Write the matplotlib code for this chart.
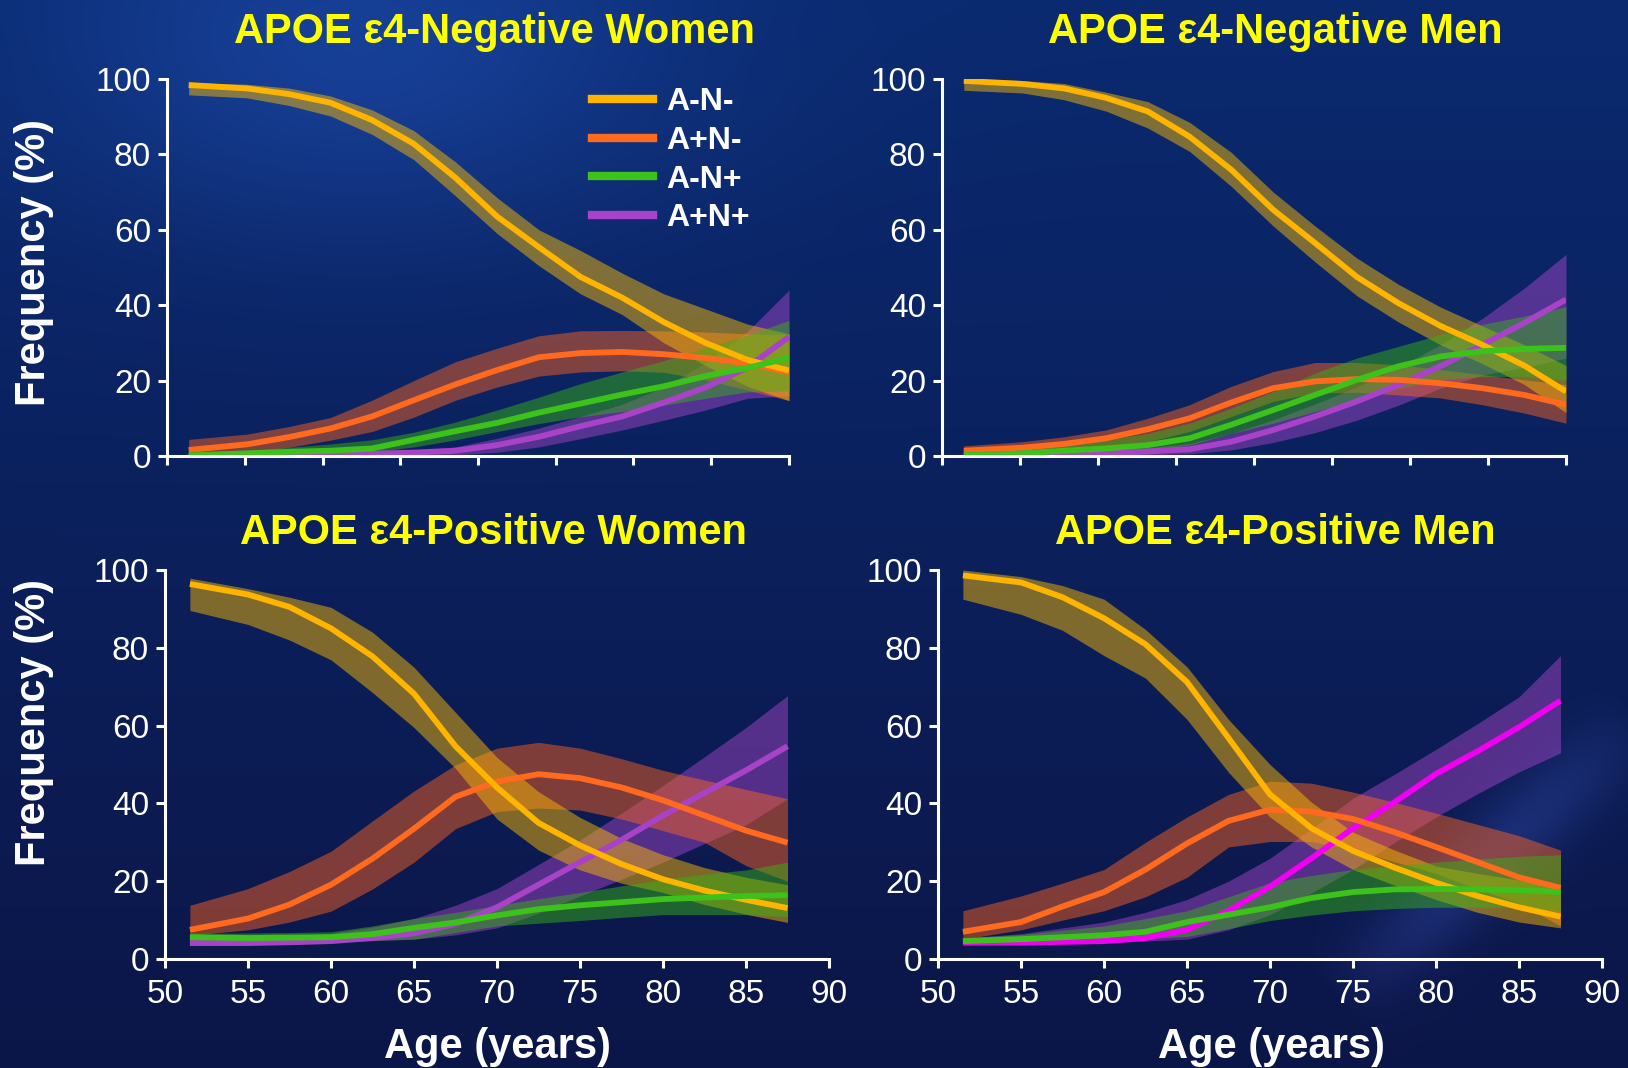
import numpy as np
import matplotlib
matplotlib.use('Agg')
import matplotlib.pyplot as plt
from matplotlib.lines import Line2D

plt.rcParams['font.family'] = ['Liberation Sans', 'DejaVu Sans']

#Ages at which the curves were read (years)
age = [51.5, 55, 57.5, 60, 62.5, 65, 67.5, 70, 72.5, 75, 77.5, 80, 82.5, 85, 87.5]
groups = ['A-N-', 'A+N-', 'A-N+', 'A+N+']
titles = ['APOE \u03b54-Negative Women', 'APOE \u03b54-Negative Men',
          'APOE \u03b54-Positive Women', 'APOE \u03b54-Positive Men']

#APOE e4-negative women (mid, lo, hi)
nw_ann = [98.4, 97.5, 96.0, 93.7, 89.1, 82.8, 73.8, 63.5, 55.4, 47.5, 42.0, 35.5, 30.0, 25.5, 22.7]
nw_ann_lo = [95.8, 95.0, 93.0, 90.2, 85.3, 78.6, 69.0, 59.0, 50.5, 43.0, 37.5, 30.0, 24.0, 18.5, 14.7]
nw_ann_hi = [99.0, 98.6, 97.6, 95.5, 91.8, 86.3, 78.0, 68.5, 60.0, 54.5, 48.5, 43.0, 39.0, 35.0, 32.4]
nw_apn = [1.6, 3.1, 5.0, 7.3, 10.5, 14.8, 19.0, 22.8, 26.2, 27.3, 27.6, 27.0, 26.0, 24.6, 22.2]
nw_apn_lo = [0.0, 0.9, 2.3, 4.2, 6.5, 10.3, 14.8, 18.3, 21.2, 22.3, 22.6, 22.2, 20.2, 17.5, 14.7]
nw_apn_hi = [4.4, 5.8, 7.8, 10.2, 14.8, 20.0, 25.0, 28.6, 31.9, 33.2, 33.3, 33.2, 32.9, 32.4, 32.2]
nw_anp = [0.2, 0.7, 1.1, 1.4, 2.0, 4.3, 6.6, 8.8, 11.5, 13.9, 16.3, 18.5, 21.2, 23.4, 26.0]
nw_anp_lo = [0.0, 0.2, 0.4, 0.6, 1.0, 2.4, 4.3, 6.5, 8.6, 10.4, 11.8, 13.5, 15.3, 17.0, 17.3]
nw_anp_hi = [0.5, 1.5, 2.3, 3.2, 4.3, 6.3, 9.0, 12.2, 15.6, 19.2, 22.3, 25.3, 28.8, 32.0, 36.0]
nw_app = [0.0, 0.1, 0.2, 0.4, 0.6, 0.9, 1.4, 2.9, 5.1, 7.9, 10.5, 14.2, 18.2, 23.5, 31.6]
nw_app_lo = [0.0, 0.0, 0.0, 0.0, 0.1, 0.2, 0.3, 1.0, 2.4, 4.6, 6.9, 9.5, 12.2, 15.3, 16.0]
nw_app_hi = [0.2, 0.4, 0.6, 0.8, 1.2, 1.6, 2.4, 4.7, 7.4, 10.5, 13.7, 18.3, 24.7, 33.0, 44.0]

#APOE e4-negative men
nm_ann = [99.5, 98.7, 97.5, 95.0, 91.4, 84.7, 75.9, 65.3, 56.5, 47.5, 40.5, 34.5, 29.5, 24.0, 17.1]
nm_ann_lo = [97.0, 96.3, 94.5, 91.5, 87.0, 80.8, 71.5, 61.0, 51.5, 42.5, 35.5, 29.5, 24.5, 19.0, 11.5]
nm_ann_hi = [100.0, 99.6, 98.8, 96.5, 94.0, 88.5, 80.5, 70.0, 61.0, 52.5, 45.5, 39.5, 34.5, 29.5, 24.0]
nm_apn = [1.4, 2.2, 3.2, 4.7, 7.1, 10.0, 14.2, 18.0, 19.8, 20.4, 20.2, 19.3, 18.0, 16.2, 13.6]
nm_apn_lo = [0.3, 0.7, 1.4, 2.5, 3.8, 6.5, 10.5, 14.5, 16.7, 16.9, 16.2, 15.4, 13.6, 11.4, 8.7]
nm_apn_hi = [2.7, 3.8, 5.1, 6.9, 10.0, 13.6, 18.5, 22.4, 24.8, 24.8, 24.2, 22.9, 21.6, 20.2, 18.9]
nm_anp = [0.3, 0.7, 1.4, 2.0, 2.9, 4.7, 8.3, 12.2, 16.2, 20.2, 23.8, 26.4, 27.8, 28.4, 28.7]
nm_anp_lo = [0.0, 0.3, 0.7, 1.2, 1.8, 2.9, 6.0, 8.7, 11.8, 14.9, 18.0, 20.2, 21.1, 21.1, 20.2]
nm_anp_hi = [0.7, 1.6, 2.9, 4.3, 6.0, 8.7, 12.7, 17.1, 22.0, 26.0, 29.1, 32.2, 34.9, 37.1, 39.6]
nm_app = [0.0, 0.2, 0.4, 0.7, 1.2, 1.8, 3.8, 6.9, 10.5, 14.5, 18.9, 23.8, 29.5, 35.3, 41.5]
nm_app_lo = [0.0, 0.0, 0.0, 0.1, 0.3, 0.6, 1.6, 3.6, 6.2, 9.5, 13.5, 18.0, 21.5, 23.5, 26.0]
nm_app_hi = [0.2, 0.5, 0.9, 1.4, 2.2, 3.3, 6.0, 9.6, 13.8, 18.3, 23.5, 29.5, 36.5, 44.5, 53.5]

#APOE e4-positive women
pw_ann = [96.4, 93.7, 90.5, 85.0, 77.8, 68.2, 54.7, 44.1, 35.0, 29.2, 24.4, 20.5, 17.6, 15.2, 13.1]
pw_ann_lo = [89.6, 86.0, 82.0, 76.9, 68.5, 59.5, 49.0, 36.0, 28.0, 22.9, 19.5, 17.1, 14.0, 11.5, 9.4]
pw_ann_hi = [97.9, 95.2, 93.0, 90.4, 84.0, 75.0, 63.4, 51.8, 43.0, 36.4, 31.0, 26.8, 23.5, 21.0, 19.1]
pw_apn = [7.5, 10.4, 14.0, 19.1, 25.8, 33.5, 41.7, 45.6, 47.5, 46.5, 44.1, 40.8, 36.9, 33.0, 29.9]
pw_apn_lo = [6.1, 7.5, 9.5, 12.3, 18.0, 24.9, 33.5, 37.9, 38.8, 38.3, 36.0, 33.0, 30.0, 24.0, 20.0]
pw_apn_hi = [13.8, 18.1, 22.5, 27.7, 35.5, 43.2, 49.9, 54.2, 55.7, 54.2, 51.5, 48.5, 46.0, 43.6, 41.2]
pw_anp = [5.6, 5.4, 5.5, 5.6, 6.4, 8.0, 9.4, 11.2, 12.8, 13.8, 14.6, 15.4, 15.8, 16.2, 16.4]
pw_anp_lo = [4.8, 4.7, 4.6, 4.6, 4.8, 5.1, 6.8, 8.5, 9.2, 9.9, 10.7, 11.4, 11.4, 11.4, 10.9]
pw_anp_hi = [6.6, 6.7, 6.8, 7.0, 8.5, 10.4, 12.0, 13.8, 15.5, 17.1, 18.8, 20.5, 21.8, 22.9, 24.9]
pw_app = [4.1, 4.1, 4.3, 4.6, 5.4, 6.6, 9.0, 13.3, 19.1, 24.9, 30.6, 36.9, 42.7, 48.5, 54.7]
pw_app_lo = [3.7, 3.8, 4.1, 4.4, 4.7, 5.1, 6.2, 8.0, 11.8, 16.2, 20.5, 24.9, 29.7, 34.5, 41.2]
pw_app_hi = [5.1, 5.5, 6.0, 6.6, 8.2, 10.4, 13.8, 18.1, 24.3, 30.6, 37.5, 44.6, 52.0, 59.5, 67.7]

#APOE e4-positive men
pm_ann = [98.6, 96.8, 93.0, 87.6, 80.9, 71.2, 56.8, 42.3, 33.6, 27.8, 23.5, 19.6, 16.2, 13.3, 10.9]
pm_ann_lo = [92.5, 88.6, 84.5, 78.0, 72.2, 61.6, 48.0, 36.5, 28.8, 23.0, 19.0, 15.3, 12.0, 9.5, 8.0]
pm_ann_hi = [100.0, 98.3, 96.0, 92.5, 84.7, 75.1, 61.6, 50.0, 40.3, 32.6, 28.0, 23.9, 22.0, 20.3, 18.6]
pm_apn = [7.0, 9.5, 13.5, 17.2, 23.0, 29.7, 35.5, 38.4, 37.9, 36.0, 32.6, 28.8, 24.9, 21.0, 18.3]
pm_apn_lo = [5.1, 7.5, 10.0, 12.4, 16.0, 21.0, 28.8, 30.2, 30.2, 28.2, 25.0, 22.0, 18.0, 14.3, 8.5]
pm_apn_hi = [12.4, 16.2, 19.5, 23.0, 30.0, 36.5, 42.3, 45.7, 45.2, 42.9, 40.3, 37.5, 34.6, 31.7, 28.0]
pm_anp = [4.6, 5.1, 5.6, 6.1, 7.0, 9.5, 11.4, 13.3, 15.7, 17.2, 17.9, 18.0, 17.9, 17.7, 17.2]
pm_anp_lo = [3.9, 4.2, 4.5, 4.8, 5.3, 5.8, 7.8, 9.9, 11.3, 12.4, 13.0, 13.3, 13.3, 13.3, 12.4]
pm_anp_hi = [5.4, 6.3, 7.4, 8.5, 10.4, 12.4, 16.0, 19.6, 21.5, 23.0, 24.0, 24.9, 25.7, 26.4, 26.8]
pm_app = [4.2, 4.2, 4.4, 4.6, 5.4, 7.5, 12.4, 18.6, 25.9, 33.6, 40.3, 47.6, 53.4, 59.6, 66.4]
pm_app_lo = [3.7, 3.8, 4.0, 4.2, 4.6, 5.1, 7.5, 11.4, 17.0, 23.0, 30.0, 36.5, 42.5, 48.1, 53.0]
pm_app_hi = [5.4, 6.5, 8.0, 9.5, 12.0, 15.3, 20.0, 25.9, 33.5, 41.3, 47.5, 53.9, 60.5, 67.4, 78.0]

panels = [
 {'A-N-': (nw_ann, nw_ann_lo, nw_ann_hi), 'A+N-': (nw_apn, nw_apn_lo, nw_apn_hi),
  'A-N+': (nw_anp, nw_anp_lo, nw_anp_hi), 'A+N+': (nw_app, nw_app_lo, nw_app_hi)},
 {'A-N-': (nm_ann, nm_ann_lo, nm_ann_hi), 'A+N-': (nm_apn, nm_apn_lo, nm_apn_hi),
  'A-N+': (nm_anp, nm_anp_lo, nm_anp_hi), 'A+N+': (nm_app, nm_app_lo, nm_app_hi)},
 {'A-N-': (pw_ann, pw_ann_lo, pw_ann_hi), 'A+N-': (pw_apn, pw_apn_lo, pw_apn_hi),
  'A-N+': (pw_anp, pw_anp_lo, pw_anp_hi), 'A+N+': (pw_app, pw_app_lo, pw_app_hi)},
 {'A-N-': (pm_ann, pm_ann_lo, pm_ann_hi), 'A+N-': (pm_apn, pm_apn_lo, pm_apn_hi),
  'A-N+': (pm_anp, pm_anp_lo, pm_anp_hi), 'A+N+': (pm_app, pm_app_lo, pm_app_hi)},
]

line_col = {'A-N-': '#ffb400', 'A+N-': '#ff6a1f', 'A-N+': '#3cc21a', 'A+N+': '#a843c8'}
band_col = {'A-N-': '#ffbe00', 'A+N-': '#ff6420', 'A-N+': '#37b414', 'A+N+': '#a546c8'}
draw_order = ['A+N+', 'A+N-', 'A-N-', 'A-N+']

W, H = 1628, 1068
fig = plt.figure(figsize=(W/100, H/100), dpi=100)

#Background gradient
yy, xx = np.mgrid[0:1:534j, 0:1:814j]
top = np.array([10, 42, 112])/255.
bot = np.array([12, 22, 72])/255.
bg = top[None, None, :]*(1-yy[..., None]) + bot[None, None, :]*yy[..., None]
glow = np.exp(-((xx-0.22)**2/0.04 + (yy-0.05)**2/0.03))
bg += glow[..., None]*np.array([12, 22, 40])/255.
#faint diagonal light streak, bottom right
px, py = xx*W, yy*H
x1, y1, x2, y2 = 1640., 720., 1340., 1000.
dx, dy = x2-x1, y2-y1
tt = np.clip(((px-x1)*dx + (py-y1)*dy)/(dx*dx+dy*dy), 0, 1)
dist = np.hypot(px-(x1+tt*dx), py-(y1+tt*dy))
streak = np.exp(-dist**2/(2*28.0**2))*np.sin(np.pi*tt)**0.7
bg += streak[..., None]*np.array([16, 20, 38])/255.
bax = fig.add_axes([0, 0, 1, 1], zorder=-10)
bax.imshow(np.clip(bg, 0, 1), aspect='auto', extent=(0, 1, 0, 1), interpolation='bilinear')
bax.axis('off')

#Axes boxes in pixels: left, right, top, bottom
boxes = [(167, 789, 79, 456), (942, 1566, 79, 456), (165, 829, 570, 959), (938, 1602, 570, 959)]
title_x = [494, 1275, 494, 1275]
title_base = [43, 43, 544, 544]

axes = []
for k, (l, r, t, b) in enumerate(boxes):
 ax = fig.add_axes([l/W, 1-b/H, (r-l)/W, (b-t)/H])
 ax.patch.set_alpha(0)
 db = panels[k]
 for g in draw_order:
  mid, lo, hi = db[g]
  ax.fill_between(age, lo, hi, color=band_col[g], alpha=0.48, lw=0)
  c = line_col[g]
  if k == 3 and g == 'A+N+': c = '#f000f0'
  ax.plot(age, mid, color=c, lw=4.2, solid_capstyle='butt', solid_joinstyle='round')
 ax.set_ylim(0, 100)
 ax.set_yticks(np.arange(0, 101, 20))
 if k < 2:
  ax.set_xlim(50.2, 87.5)
  ax.set_xticks(np.linspace(50.2, 87.5, 9))
  ax.set_xticklabels([])
 else:
  ax.set_xlim(50, 90)
  ax.set_xticks(np.arange(50, 91, 5))
 for s in ['top', 'right']:
  ax.spines[s].set_visible(False)
 for s in ['left', 'bottom']:
  ax.spines[s].set_color('white')
  ax.spines[s].set_linewidth(2.2)
 ax.tick_params(colors='white', labelsize=24, length=6.5, width=2.2, direction='out')
 ax.tick_params(axis='y', pad=5)
 ax.tick_params(axis='x', pad=8)
 fig.text(title_x[k]/W, 1-title_base[k]/H, titles[k], color='#ffff00', fontsize=30,
          fontweight='bold', ha='center', va='baseline')
 axes.append(ax)

#Axis labels
for yc in [262, 722]:
 fig.text(34/W, 1-yc/H, 'Frequency (%)', color='white', fontsize=30, fontweight='bold',
          rotation=90, ha='center', va='center')
for xc in [498, 1271]:
 fig.text(xc/W, 1-1058/H, 'Age (years)', color='white', fontsize=30, fontweight='bold',
          ha='center', va='baseline')

#Legend
handles = [Line2D([0], [0], color=line_col[g], lw=6) for g in groups]
leg = axes[0].legend(handles, groups, loc='upper left', bbox_to_anchor=(0.683, 0.978),
                     frameon=False, handlelength=1.9, handletextpad=0.42, labelspacing=0.27,
                     borderpad=0, borderaxespad=0, prop={'size': 23, 'weight': 'bold'})
for txt in leg.get_texts():
 txt.set_color('white')

fig.savefig('out.png', dpi=100)
